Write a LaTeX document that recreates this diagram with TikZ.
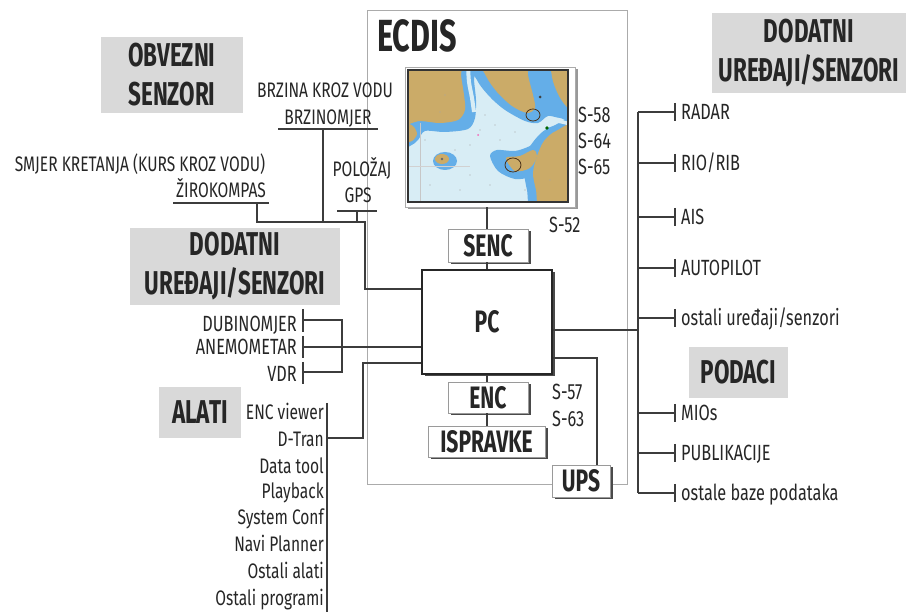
\documentclass[tikz,border=0pt]{standalone}
\usepackage{fontspec}
\setmainfont{Fira Sans}
\newfontfamily\lblfont[FakeStretch=0.74]{Fira Sans}
\newfontfamily\hdfont[FakeStretch=0.68]{Fira Sans}
\usetikzlibrary{shadows,calc}
\definecolor{linec}{HTML}{3C3C3C}
\definecolor{txt}{HTML}{262626}
\definecolor{headg}{HTML}{D9D9D9}
\definecolor{framec}{HTML}{ABABAB}
\definecolor{boxb}{HTML}{9A9A9A}
\definecolor{shadowc}{HTML}{4A4A4A}
\definecolor{water}{HTML}{D8EDF5}
\definecolor{shallow}{HTML}{64AEE8}
\definecolor{land}{HTML}{CBAB68}
\begin{document}
\begin{tikzpicture}[x=1pt,y=-1pt,
  conn/.style={draw=linec, line width=1.1pt},
  heading/.style={fill=headg, text=txt, inner sep=0pt, align=center, font=\hdfont\bfseries\fontsize{33}{39}\selectfont},
  lbl/.style={text=txt, inner sep=0pt, font=\lblfont\fontsize{21}{24}\selectfont},
  rlbl/.style={text=txt, inner sep=0pt, font=\lblfont\fontsize{22}{26}\selectfont},
  sbox/.style={draw=boxb, fill=white, line width=0.8pt, text=txt, inner sep=0pt,
    font=\hdfont\bfseries\fontsize{31}{36}\selectfont,
    drop shadow={shadow xshift=2.5pt, shadow yshift=-2.5pt, fill=shadowc, opacity=1}},
]
\useasboundingbox (0,0) rectangle (906,612);

% ECDIS frame
\draw[framec, line width=0.9pt] (367,10) rectangle (627,484);
\node[anchor=base west, inner sep=0pt, text=txt, font=\hdfont\bfseries\fontsize{45}{48}\selectfont] (ecdis) at (377,52) {ECDIS};

% headings
\node[heading, minimum width=142pt, minimum height=76pt] (obv) at (172,75) {OBVEZNI\\SENZORI};
\node[heading, minimum width=194pt, minimum height=80pt] (dodr) at (809,53) {DODATNI\\UREĐAJI/SENZORI};
\node[heading, minimum width=210pt, minimum height=77pt] (dodl) at (235,266.5) {DODATNI\\UREĐAJI/SENZORI};
\node[heading, minimum width=99pt, minimum height=51pt] (podaci) at (738.5,372.5) {PODACI};
\node[heading, minimum width=82pt, minimum height=51pt] (alati) at (200,412.5) {ALATI};

% map
\node[draw=framec, fill=white, line width=0.8pt, minimum width=170pt, minimum height=140pt, inner sep=0pt,
  drop shadow={shadow xshift=2.5pt, shadow yshift=-2.5pt, fill=black!40, opacity=1}] (map) at (490,137) {};
\begin{scope}
  \clip (408,70) rectangle (568,202);
  \fill[water] (408,70) rectangle (568,202);
  % shallow areas
  \fill[shallow] plot[smooth cycle] coordinates {(395,55) (473,55) (474,80) (476,100) (475,118) (468,129) (445,132) (425,131) (418,140) (410,146) (395,148)};
  \fill[shallow] plot[smooth cycle] coordinates {(470,55) (575,55) (575,118) (560,118) (548,116) (538,123) (525,121) (505,110) (490,97) (477,80)};
  \fill[shallow] plot[smooth cycle] coordinates {(575,124) (553,126) (540,134) (528,150) (524,170) (527,190) (533,210) (575,210)};
  \fill[shallow] plot[smooth cycle] coordinates {(490,156) (497,150) (515,151) (530,146) (540,139) (547,144) (541,161) (531,176) (515,179) (498,171)};
  \fill[shallow] (445,161) ellipse [x radius=12pt, y radius=9pt];
  % light channels
  \draw[water, line width=3.5pt] plot[smooth] coordinates {(541,126) (555,121) (570,124)};
  \draw[water, line width=4pt] plot[smooth] coordinates {(468,65) (469,82) (472,98) (474,112)};
  % land
  \fill[land] plot[smooth cycle] coordinates {(395,55) (460,55) (461,75) (464,95) (465,110) (458,120) (440,123) (420,121) (395,122)};
  \fill[land] plot[smooth cycle] coordinates {(404,124) (413,126) (417,134) (412,141) (404,141)};
  \fill[land] plot[smooth cycle] coordinates {(479,55) (526,55) (528,75) (533,95) (535,108) (527,113) (512,106) (497,92) (486,76)};
  \fill[land] plot[smooth cycle] coordinates {(552,55) (575,55) (575,110) (566,106) (558,94) (552,77)};
  \fill[land] plot[smooth cycle] coordinates {(575,129) (556,131) (544,141) (537,156) (533,173) (536,190) (541,210) (575,210)};
  \fill[land] plot[smooth cycle] coordinates {(506,158) (520,156) (533,150) (537,156) (530,168) (515,171)};
  \fill[land] (442,159) ellipse [x radius=7pt, y radius=5pt];
  % grid and marks
  \draw[black!22, line width=0.4pt] (420,123) -- (420,202);
  \draw[black!18, line width=0.4pt] (408,166) -- (470,166);
  \draw[black!60!brown, line width=0.8pt] (533,115) ellipse [x radius=7pt, y radius=6pt];
  \draw[black!60!brown, line width=0.8pt] (513,165) ellipse [x radius=8pt, y radius=7pt];
  \fill[black!75] (540,97) circle (1.5pt);
  \fill[green!40!black] (547,128) circle (1.8pt);
  \fill[black!60] (442,159) circle (1.3pt);
  \foreach \px/\py in {425/140, 440/112, 455/150, 470/175, 480/130, 490/185, 515/132, 500/140, 460/190, 430/185, 525/190, 485/115, 445/95, 550/180, 470/145, 495/125}
    \fill[black!35] (\px,\py) circle (0.6pt);
  \fill[magenta!60] (478,135) circle (1pt);
\end{scope}
\draw[black!80, line width=1.6pt] (408,70) rectangle (568,202);

% S labels
\node[rlbl, anchor=base west] (s58) at (578,123) {S-58};
\node[rlbl, anchor=base west] (s64) at (578,149) {S-64};
\node[rlbl, anchor=base west] (s65) at (578,175) {S-65};
\node[rlbl, anchor=base west] (s52) at (549,233) {S-52};
\node[rlbl, anchor=base west] (s57) at (552,400) {S-57};
\node[rlbl, anchor=base west] (s63) at (552,427) {S-63};

% central boxes
\node[sbox, minimum width=80pt, minimum height=33pt] (senc) at (488,245.5) {SENC};
\node[sbox, draw=black!85, line width=1.8pt, minimum width=130pt, minimum height=104pt] (pc) at (487,322) {PC};
\node[sbox, minimum width=80pt, minimum height=31pt] (enc) at (488,397.5) {ENC};
\node[sbox, minimum width=117pt, minimum height=31pt] (isp) at (486.5,441.5) {ISPRAVKE};
\node[sbox, minimum width=58pt, minimum height=32pt] (ups) at (581,481) {UPS};

\draw[conn] (map.south -| 487,0) -- (senc.north -| 487,0);
\draw[conn] (senc.south -| 487,0) -- (pc.north -| 487,0);
\draw[conn] (pc.south -| 487,0) -- (enc.north -| 487,0);
\draw[conn] (enc.south -| 487,0) -- (isp.north -| 487,0);
\draw[conn] (pc.east |- 0,358) -| (ups.north -| 597,0);

% mandatory sensors
\node[lbl, anchor=base] (brz1) at (325,98) {BRZINA KROZ VODU};
\node[lbl, anchor=base] (brz2) at (328,125) {BRZINOMJER};
\node[lbl, anchor=base] (smj1) at (140,172) {SMJER KRETANJA (KURS KROZ VODU)};
\node[lbl, anchor=base] (smj2) at (221,198) {ŽIROKOMPAS};
\node[lbl, anchor=base] (pol1) at (362,177) {POLOŽAJ};
\node[lbl, anchor=base] (pol2) at (358,203) {GPS};
\coordinate (ub1) at (278,129); \coordinate (ub2) at (378,129);
\coordinate (uz1) at (173,203); \coordinate (uz2) at (269,203);
\coordinate (ug1) at (337,211); \coordinate (ug2) at (377,211);
\draw[conn] (ub1) -- (ub2);
\draw[conn] (uz1) -- (uz2);
\draw[conn] (ug1) -- (ug2);
\coordinate (jb) at (323,129);
\coordinate (jz) at (257,203);
\coordinate (jg) at (357,211);
\coordinate (bus1) at (365,222);
\draw[conn] (jz) |- (bus1) |- (pc.west |- 0,289);
\draw[conn] (jb) -- (jb |- bus1);
\draw[conn] (jg) -- (jg |- bus1);

% additional sensors left
\node[rlbl, anchor=base east] (dub) at (297,332) {DUBINOMJER};
\node[rlbl, anchor=base east] (ane) at (297,355) {ANEMOMETAR};
\node[rlbl, anchor=base east] (vdr) at (297,382) {VDR};
\coordinate (td) at (303,320); \coordinate (ta) at (303,347); \coordinate (tv) at (303,372);
\draw[conn] (303,309) -- (303,332);
\draw[conn] (303,336) -- (303,358);
\draw[conn] (303,362) -- (303,384);
\draw[conn] (td) -| (342,372) -- (tv);
\draw[conn] (ta) -- (pc.west |- ta);

% tools
\coordinate (tl1) at (327,403); \coordinate (tl2) at (327,612);
\draw[conn] (tl1) -- (tl2);
\foreach \yy/\tt [count=\i] in {420/ENC viewer, 447/D-Tran, 474/Data tool, 499/Playback, 525/System Conf, 551/Navi Planner, 578/Ostali alati, 605/Ostali programi}
  \node[lbl, anchor=base east] (tool\i) at (324,\yy) {\tt};
\coordinate (dt) at (327,438);
\draw[conn] (dt) -| (363,363) -- (pc.west |- 0,363);

% right bus
\coordinate (rb1) at (638,112); \coordinate (rb2) at (638,493);
\draw[conn] (rb1) -- (rb2);
\draw[conn] (pc.east |- 0,330) -- (rb1 |- 0,330);
\foreach \yy/\tt [count=\i] in {112/RADAR, 163/{RIO/RIB}, 217/AIS, 268/AUTOPILOT, 318/{ostali uređaji/senzori}, 413/MIOs, 453/PUBLIKACIJE, 493/{ostale baze podataka}} {
  \coordinate (rt\i) at (675,\yy);
  \draw[conn] (rb1 |- rt\i) -- (rt\i);
  \draw[conn] ($(rt\i)+(0,-9)$) -- ($(rt\i)+(0,9)$);
  \node[rlbl, anchor=base west] (rl\i) at (681,\yy+7.5) {\tt};
}
\end{tikzpicture}
\end{document}
